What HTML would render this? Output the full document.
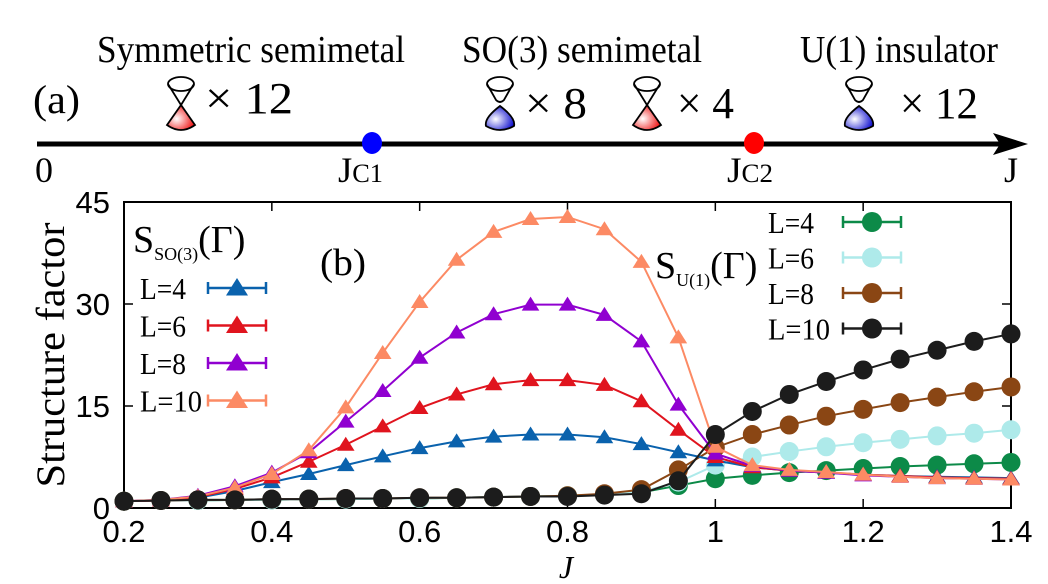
<!DOCTYPE html>
<html><head><meta charset="utf-8"><style>
body{margin:0;background:#fff;width:1048px;height:584px;overflow:hidden}
svg{display:block}
.serif{font-family:"Liberation Serif",serif}
.sans{font-family:"Liberation Sans",sans-serif}
</style></head><body>
<svg id="fig" width="1048" height="584" viewBox="0 0 1048 584">
<defs>
<radialGradient id="gr" cx="0.35" cy="0.55" r="0.7"><stop offset="0" stop-color="#fff"/><stop offset="1" stop-color="#e00"/></radialGradient>
<radialGradient id="gb" cx="0.35" cy="0.55" r="0.7"><stop offset="0" stop-color="#fff"/><stop offset="1" stop-color="#00c"/></radialGradient>
</defs>
<g>
<text class="serif" x="97" y="62" font-size="38" textLength="308" lengthAdjust="spacingAndGlyphs">Symmetric semimetal</text>
<text class="serif" x="462" y="62" font-size="38" textLength="240" lengthAdjust="spacingAndGlyphs">SO(3) semimetal</text>
<text class="serif" x="800" y="62" font-size="38" textLength="198" lengthAdjust="spacingAndGlyphs">U(1) insulator</text>
<text class="serif" x="33" y="113" font-size="40" textLength="47" lengthAdjust="spacingAndGlyphs">(a)</text>
<text class="serif" x="205" y="113" font-size="44" textLength="88" lengthAdjust="spacingAndGlyphs">× 12</text>
<text class="serif" x="525" y="118" font-size="44" textLength="62" lengthAdjust="spacingAndGlyphs">× 8</text>
<text class="serif" x="677" y="118" font-size="44" textLength="57" lengthAdjust="spacingAndGlyphs">× 4</text>
<text class="serif" x="900" y="118" font-size="44" textLength="78" lengthAdjust="spacingAndGlyphs">× 12</text>
<g id="cones"></g>
<line x1="37" y1="144" x2="1010" y2="144" stroke="#000" stroke-width="5"/>
<polygon points="993,133 1028,144 993,155 1000,144" fill="#000"/>
<ellipse cx="372" cy="143" rx="10" ry="11" fill="#00f"/>
<ellipse cx="754" cy="143" rx="10" ry="11" fill="#f00"/>
<text class="serif" x="35" y="182" font-size="36" textLength="18" lengthAdjust="spacingAndGlyphs">0</text>
<text class="serif" x="338" y="182" font-size="36" textLength="45" lengthAdjust="spacingAndGlyphs">J<tspan font-size="26">C1</tspan></text>
<text class="serif" x="727" y="182" font-size="36" textLength="46" lengthAdjust="spacingAndGlyphs">J<tspan font-size="26">C2</tspan></text>
<text class="serif" x="1004" y="182" font-size="36" textLength="14" lengthAdjust="spacingAndGlyphs">J</text>
</g>
<g id="panelb"></g>
</svg>
<script>
const J = [0.2,0.25,0.3,0.35,0.4,0.45,0.5,0.55,0.6,0.65,0.7,0.75,0.8,0.85,0.9,0.95,1.0,1.05,1.1,1.15,1.2,1.25,1.3,1.35,1.4];
const so3L4 = [1.0,1.1,1.5,2.5,3.8,5.0,6.3,7.6,8.8,9.8,10.5,10.8,10.8,10.4,9.4,8.2,7.0,6.0,5.5,5.2,4.9,4.7,4.6,4.5,4.4];
const so3L6 = [1.0,1.1,1.6,2.8,4.5,6.8,9.3,12.0,14.7,16.7,18.2,18.8,18.8,18.1,15.7,11.5,7.5,6.0,5.5,5.2,4.9,4.7,4.5,4.4,4.3];
const so3L8 = [1.0,1.2,1.8,3.2,5.2,8.2,12.7,17.2,22.1,25.8,28.5,29.9,29.9,28.4,24.5,15.2,8.0,6.2,5.5,5.2,4.8,4.6,4.4,4.3,4.2];
const so3L10 = [1.0,1.2,1.7,3.0,5.0,8.5,14.8,22.8,30.3,36.5,40.6,42.5,42.8,41.0,36.2,25.1,9.0,6.3,5.6,5.3,4.9,4.6,4.4,4.3,4.2];
const u1L4 = [1.0,1.1,1.1,1.2,1.2,1.3,1.3,1.4,1.4,1.5,1.6,1.7,1.8,2.0,2.3,3.3,4.3,4.8,5.2,5.5,5.8,6.1,6.3,6.5,6.7];
const u1L6 = [1.0,1.1,1.1,1.2,1.2,1.3,1.3,1.4,1.4,1.5,1.6,1.7,1.8,2.0,2.4,3.8,6.3,7.5,8.3,9.0,9.6,10.1,10.6,11.0,11.5];
const u1L8 = [1.0,1.1,1.2,1.2,1.3,1.3,1.4,1.4,1.5,1.5,1.6,1.7,1.8,2.1,2.7,5.6,8.9,10.8,12.2,13.5,14.5,15.5,16.3,17.1,17.8];
const u1L10 = [1.0,1.1,1.2,1.2,1.3,1.3,1.4,1.4,1.5,1.5,1.6,1.7,1.7,1.9,2.1,4.0,10.8,14.2,16.7,18.6,20.3,21.9,23.2,24.5,25.6];
const xTicks = [0.2,0.4,0.6,0.8,1,1.2,1.4];
const xTickLabels = ["0.2","0.4","0.6","0.8","1","1.2","1.4"];
const yTicks = [0,15,30,45];
const yTickLabels = ["0","15","30","45"];
const legendLabels = ["L=4","L=6","L=8","L=10"];

const NS="http://www.w3.org/2000/svg";
const L=124,R=1011,T=202,B=508;
const xs=v=>L+(v-0.2)/1.2*(R-L);
const ys=v=>B-v/45*(B-T);
const g=document.getElementById('panelb');
function mk(tag,attrs,parent){const e=document.createElementNS(NS,tag);for(const k in attrs)e.setAttribute(k,attrs[k]);(parent||g).appendChild(e);return e;}

const cg=document.getElementById('cones');
function cone(cx,gap,fillId,name){
  const c=mk('g',{},cg);
  
  
  const top=84,bot=130;
  mk('ellipse',{cx:cx,cy:top,rx:13,ry:7,fill:'#fff',stroke:'#000','stroke-width':1.8},c);
  if(gap){
    mk('path',{d:`M${cx-13},${top} L${cx-4},${top+16} Q${cx},${top+20} ${cx+4},${top+16} L${cx+13},${top}`,fill:'none',stroke:'#000','stroke-width':1.8},c);
    mk('path',{d:`M${cx},${top+22} Q${cx-16},${bot-12} ${cx-14},${bot-4} Q${cx},${bot+4} ${cx+14},${bot-4} Q${cx+16},${bot-12} ${cx},${top+22}Z`,fill:`url(#${fillId})`,stroke:'#000','stroke-width':1.8},c);
  } else {
    mk('path',{d:`M${cx-13},${top} L${cx},${top+21} L${cx+13},${top}`,fill:'none',stroke:'#000','stroke-width':1.8},c);
    mk('path',{d:`M${cx},${top+21} L${cx-14},${bot-5} Q${cx},${bot+5} ${cx+14},${bot-5} Z`,fill:`url(#${fillId})`,stroke:'#000','stroke-width':1.8},c);
  }
}
cone(181,false,'gr','dirac-cone-symmetric');
cone(500,true,'gb','gapped-cone-so3');
cone(647,false,'gr','dirac-cone-so3');
cone(859,true,'gb','gapped-cone-u1');

const fr=mk('rect',{x:L,y:T,width:R-L,height:B-T,fill:'none',stroke:'#000','stroke-width':2});


xTicks.forEach((t,i)=>{
  const x=xs(t);
  const a=mk('line',{x1:x,y1:B,x2:x,y2:B-9,stroke:'#000','stroke-width':1.5});
  
  
  mk('line',{x1:x,y1:T,x2:x,y2:T+9,stroke:'#000','stroke-width':1.5});
  const tx=mk('text',{x:x,y:B+34,'text-anchor':'middle','font-size':31,class:'sans'});
  tx.textContent=xTickLabels[i];
  
  
});
yTicks.forEach((t,i)=>{
  const y=ys(t);
  mk('line',{x1:L,y1:y,x2:L+9,y2:y,stroke:'#000','stroke-width':1.5});
  mk('line',{x1:R,y1:y,x2:R-9,y2:y,stroke:'#000','stroke-width':1.5});
  const tx=mk('text',{x:L-14,y:y+11,'text-anchor':'end','font-size':31,class:'sans'});
  tx.textContent=yTickLabels[i];
  
  
});
const yt=mk('text',{x:0,y:0,transform:'translate(64,355) rotate(-90)','text-anchor':'middle','font-size':40,class:'serif',textLength:265,lengthAdjust:'spacingAndGlyphs'});
yt.textContent='Structure factor';


const xt=mk('text',{x:566,y:578,'text-anchor':'middle','font-size':32,'font-style':'italic',class:'serif'});
xt.textContent='J';


const pb=mk('text',{x:320,y:275,'font-size':38,class:'serif',textLength:46,lengthAdjust:'spacingAndGlyphs'});
pb.textContent='(b)';


const lt1=mk('text',{x:133,y:252,'font-size':38,class:'serif'});
lt1.innerHTML='S<tspan font-size="18" dy="8">SO(3)</tspan><tspan dy="-8">(Γ)</tspan>';


const lt2=mk('text',{x:655,y:278,'font-size':38,class:'serif'});
lt2.innerHTML='S<tspan font-size="18" dy="8">U(1)</tspan><tspan dy="-8">(Γ)</tspan>';



function tri(x,y,s,col,parent){return mk('polygon',{points:`${x},${y-s} ${x-s*1.1},${y+s*0.75} ${x+s*1.1},${y+s*0.75}`,fill:col},parent);}
function series(vals,col,shape,name){
  const sg=mk('g',{});
  
  
  mk('polyline',{points:vals.map((v,i)=>xs(J[i])+','+ys(v)).join(' '),fill:'none',stroke:col,'stroke-width':2},sg);
  vals.forEach((v,i)=>{
    let m;
    if(shape==='tri') m=tri(xs(J[i]),ys(v),8,col,sg);
    else m=mk('circle',{cx:xs(J[i]),cy:ys(v),r:9.5,fill:col},sg);
    
    
  });
}
const soCols=['#0a62ad','#e0141e','#9000d0','#fc8a64'];
const uCols=['#0c8a48','#aeeaea','#8a4614','#1c1c1c'];
[u1L4,u1L6,u1L8].forEach((d,i)=>series(d,uCols[i],'circ','u1-series-'+legendLabels[i]));
[so3L4,so3L6,so3L8,so3L10].forEach((d,i)=>series(d,soCols[i],'tri','so3-series-'+legendLabels[i]));
series(u1L10,uCols[3],'circ','u1-series-L=10');

function legend(x0,y0,dy,tx,cols,shape,prefix,tw){
  legendLabels.forEach((lab,i)=>{
    const lg=mk('g',{});
    
    
    const y=y0+i*dy;
    const t=mk('text',{x:tx,y:y+11,'font-size':31,class:'serif',textLength:tw[i],lengthAdjust:'spacingAndGlyphs'},lg);
    t.textContent=lab;
    mk('line',{x1:x0,y1:y,x2:x0+58,y2:y,stroke:cols[i],'stroke-width':2.5},lg);
    mk('line',{x1:x0,y1:y-6,x2:x0,y2:y+6,stroke:cols[i],'stroke-width':2.5},lg);
    mk('line',{x1:x0+58,y1:y-6,x2:x0+58,y2:y+6,stroke:cols[i],'stroke-width':2.5},lg);
    if(shape==='tri') tri(x0+29,y,10,cols[i],lg);
    else mk('circle',{cx:x0+29,cy:y,r:10,fill:cols[i]},lg);
  });
}
legend(208,288,37.5,140,soCols,'tri','so3',[46,46,46,62]);
legend(843,222,35.5,768,uCols,'circ','u1',[46,46,46,62]);
</script>
</body></html>
